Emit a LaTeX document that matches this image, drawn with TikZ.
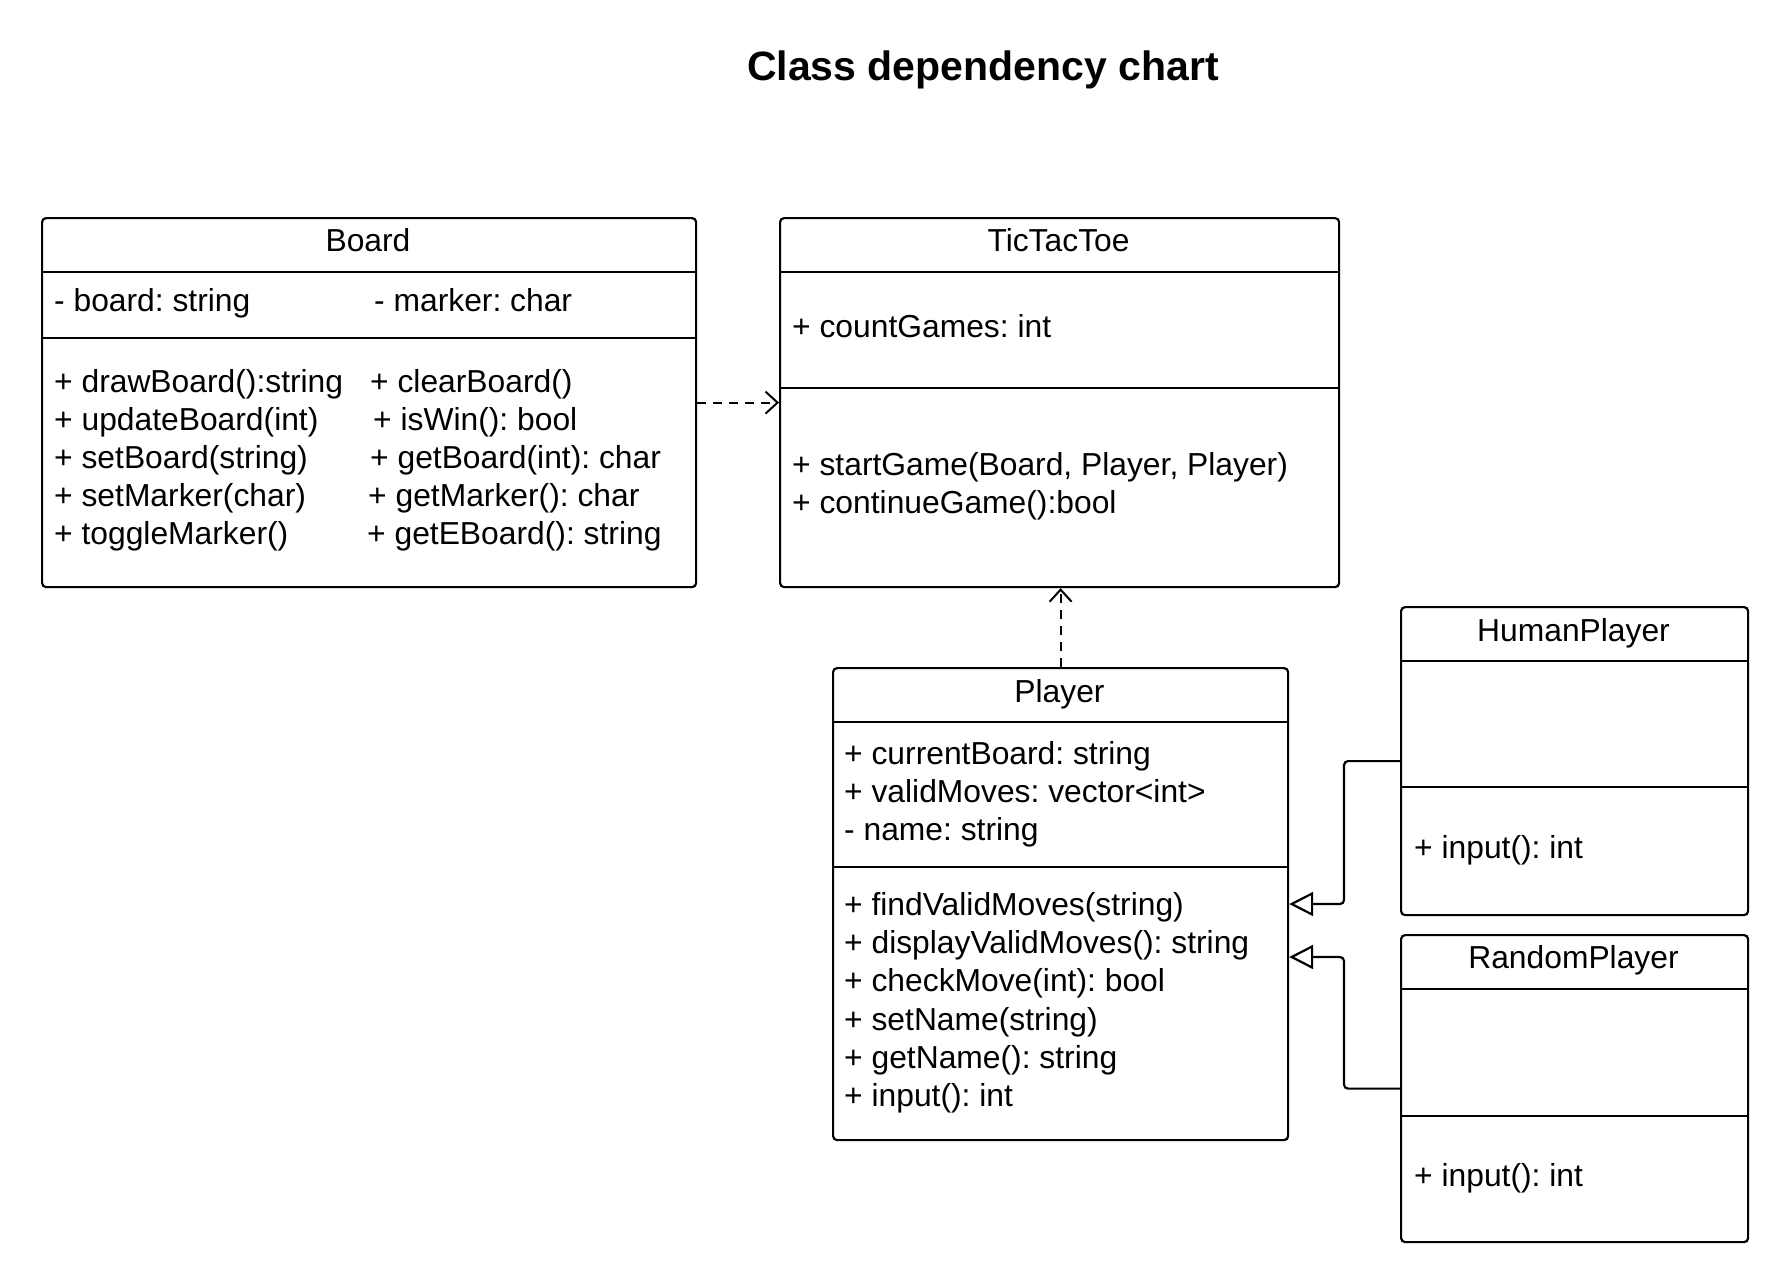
\documentclass[tikz,border=0pt]{standalone}
\usepackage{fontspec}
\setmainfont{Liberation Sans}
\usetikzlibrary{arrows.meta}
\frenchspacing
\newcommand\bodyfont{\fontsize{31.8}{38}\selectfont}
\newcommand\headfont{\fontsize{41}{48}\selectfont\bfseries}
\begin{document}
\begin{tikzpicture}[x=1pt,y=-1pt,
  cls/.style={draw, line width=2.2pt, rounded corners=4pt, inner sep=0pt, anchor=north west},
  sep/.style={line width=2.2pt},
  txt/.style={anchor=base west, inner sep=0pt, font=\bodyfont},
  ctxt/.style={anchor=base, inner sep=0pt, font=\bodyfont},
  dep/.style={line width=2pt, dash pattern=on 9pt off 7pt, -{Straight Barb[length=12pt,width=22pt,line width=2pt]}},
  inh/.style={line width=2.2pt, rounded corners=4pt, -{Triangle[open,fill=white,length=24pt,width=24pt,line width=2.2pt]}}]
\fill[white] (0,0) rectangle (1789,1283);
\useasboundingbox (0,0) rectangle (1789,1283);

\node[anchor=base, inner sep=0pt, font=\headfont] (title) at (983,80) {Class dependency chart};

% Board
\node[cls, minimum width=654pt, minimum height=369pt] (board) at (41,217) {};
\draw[sep] (41,272) -- (695,272);
\draw[sep] (41,338) -- (695,338);
\node[ctxt] (boardT) at (368,251) {Board};
\node[txt] (bA1) at (54,311) {- board: string};
\node[txt] (bA2) at (374,311) {- marker: char};
\node[txt] (bM1) at (54,392) {+ drawBoard():string};
\node[txt] (bM2) at (54,430) {+ updateBoard(int)};
\node[txt] (bM3) at (54,468) {+ setBoard(string)};
\node[txt] (bM4) at (54,506) {+ setMarker(char)};
\node[txt] (bM5) at (54,544) {+ toggleMarker()};
\node[txt] (bM6) at (370,392) {+ clearBoard()};
\node[txt] (bM7) at (373,430) {+ isWin(): bool};
\node[txt] (bM8) at (370,468) {+ getBoard(int): char};
\node[txt] (bM9) at (368,506) {+ getMarker(): char};
\node[txt] (bM10) at (367,544) {+ getEBoard(): string};

% TicTacToe
\node[cls, minimum width=559pt, minimum height=369pt] (ttt) at (779,217) {};
\draw[sep] (779,272) -- (1338,272);
\draw[sep] (779,388) -- (1338,388);
\node[ctxt] (tttT) at (1058.5,251) {TicTacToe};
\node[txt] (tA1) at (792,337) {+ countGames: int};
\node[txt] (tM1) at (792,475) {+ startGame(Board, Player, Player)};
\node[txt] (tM2) at (792,513) {+ continueGame():bool};

% Player
\node[cls, minimum width=455pt, minimum height=472pt] (player) at (832,667) {};
\draw[sep] (832,722) -- (1287,722);
\draw[sep] (832,867) -- (1287,867);
\node[ctxt] (playerT) at (1059.5,702) {Player};
\node[txt] (pA1) at (844,764) {+ currentBoard: string};
\node[txt] (pA2) at (844,802) {+ validMoves: vector<int>};
\node[txt] (pA3) at (844,840) {- name: string};
\node[txt] (pM1) at (844,915) {+ findValidMoves(string)};
\node[txt] (pM2) at (844,953) {+ displayValidMoves(): string};
\node[txt] (pM3) at (844,991) {+ checkMove(int): bool};
\node[txt] (pM4) at (844,1030) {+ setName(string)};
\node[txt] (pM5) at (844,1068) {+ getName(): string};
\node[txt] (pM6) at (844,1106) {+ input(): int};

% HumanPlayer
\node[cls, minimum width=347pt, minimum height=308pt] (human) at (1400,606) {};
\draw[sep] (1400,661) -- (1747,661);
\draw[sep] (1400,787) -- (1747,787);
\node[ctxt] (humanT) at (1573.5,641) {HumanPlayer};
\node[txt] (hM1) at (1414,858) {+ input(): int};

% RandomPlayer
\node[cls, minimum width=347pt, minimum height=307pt] (random) at (1400,934) {};
\draw[sep] (1400,989) -- (1747,989);
\draw[sep] (1400,1116) -- (1747,1116);
\node[ctxt] (randomT) at (1573.5,968) {RandomPlayer};
\node[txt] (rM1) at (1414,1186) {+ input(): int};

% connectors
\draw[dep] (board.east) -- (ttt.west);
\draw[dep] (player.north) -- (player.north |- ttt.south);
\draw[inh] (human.west) -| (1344,904) -- (player.east |- 0,904);
\draw[inh] (random.west) -| (1344,957) -- (player.east |- 0,957);
\end{tikzpicture}
\end{document}
